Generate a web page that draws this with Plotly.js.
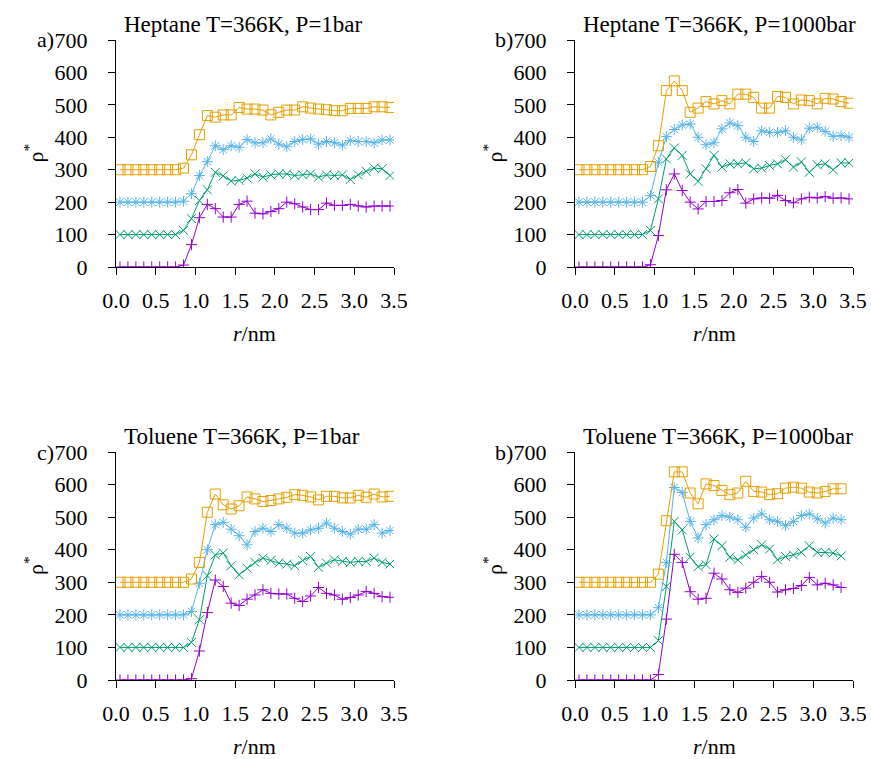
<!DOCTYPE html>
<html>
<head>
<meta charset="utf-8">
<script src="https://cdn.plot.ly/plotly-3.0.1.min.js"></script>
<style>
  html, body { margin: 0; padding: 0; background: #fff; }
  #chart { width: 871px; height: 759px; }
  /* serif face for every label, tick numbers included */
  #chart text { font-family: 'Liberation Serif', 'Times New Roman', serif !important; }
</style>
</head>
<body>
<div id="chart"></div>
<script>
// Radial positions of the density bins (nm)
const r35 = [0.05, 0.15, 0.25, 0.35, 0.45, 0.55, 0.65, 0.75, 0.85, 0.95,
             1.05, 1.15, 1.25, 1.35, 1.45, 1.55, 1.65, 1.75, 1.85, 1.95,
             2.05, 2.15, 2.25, 2.35, 2.45, 2.55, 2.65, 2.75, 2.85, 2.95,
             3.05, 3.15, 3.25, 3.35, 3.45];
const r34 = r35.slice(0, 34);

// a) Heptane T=366K, P=1bar (curves shifted by 0/100/200/300)
const hep1_purple = [0,0,0,0,0,0,0,0,6,69,152,193,180,154,154,193,203,166,164,171,180,200,195,185,177,177,197,190,190,193,188,185,188,188,188];
const hep1_green  = [100,100,100,100,100,100,100,100,113,149,205,238,292,281,265,267,274,287,277,284,287,287,282,284,287,277,284,282,284,270,284,295,305,303,282];
const hep1_blue   = [200,200,200,200,200,200,200,200,203,226,282,325,374,362,374,369,393,383,383,395,379,371,387,393,395,379,387,383,376,390,387,387,383,392,392];
const hep1_orange = [300,300,300,300,300,300,300,300,305,346,408,467,462,469,469,492,487,487,484,469,477,484,484,494,490,487,485,482,482,489,489,489,494,494,492];

// b) Heptane T=366K, P=1000bar
const hep1000_purple = [0,0,0,0,0,0,0,0,0,7,97,238,287,236,200,179,202,202,205,229,239,197,210,213,212,221,205,198,210,215,213,217,212,213,210];
const hep1000_green  = [100,100,100,100,100,100,100,100,100,113,210,333,367,344,287,264,303,344,308,318,318,321,303,305,313,318,331,308,324,292,315,318,300,321,321];
const hep1000_blue   = [200,200,200,200,200,200,200,200,200,220,323,402,424,438,441,400,377,383,426,444,436,400,387,420,415,415,420,400,392,428,431,418,403,405,400];
const hep1000_orange = [300,300,300,300,300,300,300,300,300,310,374,544,574,544,477,490,510,503,513,503,533,533,523,490,490,526,523,503,515,513,503,520,518,510,505];

// c) Toluene T=366K, P=1bar
const tol1_purple = [0,0,0,0,0,0,0,0,0,4,89,207,307,287,236,229,248,261,277,266,264,264,251,241,258,284,266,261,248,253,261,272,266,256,254];
const tol1_green  = [100,100,100,100,100,100,100,100,100,115,185,320,384,390,351,323,343,361,374,367,359,356,351,367,379,346,359,369,364,361,364,364,374,361,356];
const tol1_blue   = [200,200,200,200,200,200,200,200,200,210,297,400,477,484,463,443,415,456,466,456,477,466,451,451,461,466,482,466,456,448,463,463,477,451,459];
const tol1_orange = [300,300,300,300,300,300,300,300,300,310,361,515,571,538,525,535,562,556,548,551,556,561,569,567,562,553,564,564,559,559,567,561,571,562,564];

// d) Toluene T=366K, P=1000bar
const tol1000_purple = [0,0,0,0,0,0,0,0,0,0,17,187,386,361,271,248,251,328,310,277,269,282,300,318,300,270,277,281,290,315,292,297,292,284];
const tol1000_green  = [100,100,100,100,100,100,100,100,100,100,121,287,487,461,377,348,354,433,412,377,369,384,400,415,402,369,379,384,392,412,392,392,390,381];
const tol1000_blue   = [200,200,200,200,200,200,200,200,200,200,222,361,591,576,487,436,477,492,505,500,492,469,497,510,492,487,474,487,505,510,495,482,497,492];
const tol1000_orange = [300,300,300,300,300,300,300,300,300,300,325,489,639,639,574,541,602,597,582,569,574,610,579,577,569,572,589,592,589,577,574,579,587,587];

const panelTitles = ['Heptane T=366K, P=1bar', 'Heptane T=366K, P=1000bar',
                     'Toluene T=366K, P=1bar', 'Toluene T=366K, P=1000bar'];
const panelTags = ['a)', 'b)', 'c)', 'b)'];
const xTicks = [0, 0.5, 1, 1.5, 2, 2.5, 3, 3.5];
const yTicks = [0, 100, 200, 300, 400, 500, 600, 700];

const W = 871, H = 759;
const FONT = 'Liberation Serif';
const font = (size = 22) => ({ family: FONT, size: size, color: '#000' });

// series styling (gnuplot-like palette and point types)
const styles = [
  { color: '#9400d3', symbol: 'cross-thin-open', size: 8 },
  { color: '#009e73', symbol: 'x-thin-open', size: 9 },
  { color: '#56b4e9', symbol: 'asterisk-open', size: 9 },
  { color: '#e69f00', symbol: 'square-open', size: 10 }
];

const panels = [
  { r: r35, ys: [hep1_purple, hep1_green, hep1_blue, hep1_orange] },
  { r: r35, ys: [hep1000_purple, hep1000_green, hep1000_blue, hep1000_orange] },
  { r: r35, ys: [tol1_purple, tol1_green, tol1_blue, tol1_orange] },
  { r: r34, ys: [tol1000_purple, tol1000_green, tol1000_blue, tol1000_orange] }
];

// plot boxes in pixels: [left, right, top, bottom]
const boxes = [
  [116, 394, 40, 267],
  [575, 853, 40, 267],
  [116, 394, 452, 680],
  [575, 853, 452, 680]
];

const traces = [];
panels.forEach((p, i) => {
  const sfx = i === 0 ? '' : String(i + 1);
  p.ys.forEach((y, j) => {
    const s = styles[j];
    traces.push({
      x: p.r, y: y, type: 'scatter', mode: 'lines+markers',
      xaxis: 'x' + sfx, yaxis: 'y' + sfx,
      line: { color: s.color, width: 1 },
      marker: { symbol: s.symbol, size: s.size, color: s.color, line: { color: s.color, width: 1 } },
      showlegend: false, hoverinfo: 'x+y'
    });
  });
});

const layout = {
  width: W, height: H,
  margin: { l: 0, r: 0, t: 0, b: 0 },
  paper_bgcolor: '#fff', plot_bgcolor: '#fff',
  font: font(),
  showlegend: false,
  annotations: []
};

const px = v => v / W;
const py = v => 1 - v / H;

boxes.forEach((b, i) => {
  const sfx = i === 0 ? '' : String(i + 1);
  const [l, rr, t, bt] = b;
  layout['xaxis' + sfx] = {
    domain: [px(l), px(rr)], anchor: 'y' + sfx,
    range: [0, 3.5], tickvals: xTicks, tickformat: '.1f',
    showline: true, linecolor: '#000', linewidth: 1,
    ticks: 'outside', ticklen: 7, tickwidth: 1, tickcolor: '#000',
    ticklabelstandoff: 7,
    showgrid: false, zeroline: false,
    tickfont: font()
  };
  layout['yaxis' + sfx] = {
    domain: [py(bt), py(t)], anchor: 'x' + sfx,
    range: [0, 700], tickvals: yTicks,
    showline: true, linecolor: '#000', linewidth: 1,
    ticks: 'outside', ticklen: 7, tickwidth: 1, tickcolor: '#000',
    ticklabelstandoff: 16,
    showgrid: false, zeroline: false,
    tickfont: font()
  };
  // panel title
  layout.annotations.push({
    text: panelTitles[i], xref: 'paper', yref: 'paper',
    x: px(l + 6), y: py(t - 16), xanchor: 'left', yanchor: 'middle',
    showarrow: false, font: font(23)
  });
  // panel tag next to the top tick label
  layout.annotations.push({
    text: panelTags[i], xref: 'paper', yref: 'paper',
    x: px(l - 60), y: py(t), xanchor: 'right', yanchor: 'middle',
    showarrow: false, font: font()
  });
  // axis titles
  layout.annotations.push({
    text: '<i>r</i>/nm', xref: 'paper', yref: 'paper',
    x: px((l + rr) / 2), y: py(bt + 66), xanchor: 'center', yanchor: 'middle',
    showarrow: false, font: font()
  });
  layout.annotations.push({
    text: 'ρ<sup>*</sup>', xref: 'paper', yref: 'paper', textangle: -90,
    x: px(l - 82), y: py((t + bt) / 2), xanchor: 'center', yanchor: 'middle',
    showarrow: false, font: font()
  });
});

Plotly.newPlot('chart', traces, layout, { staticPlot: true, displayModeBar: false });
</script>
</body>
</html>
